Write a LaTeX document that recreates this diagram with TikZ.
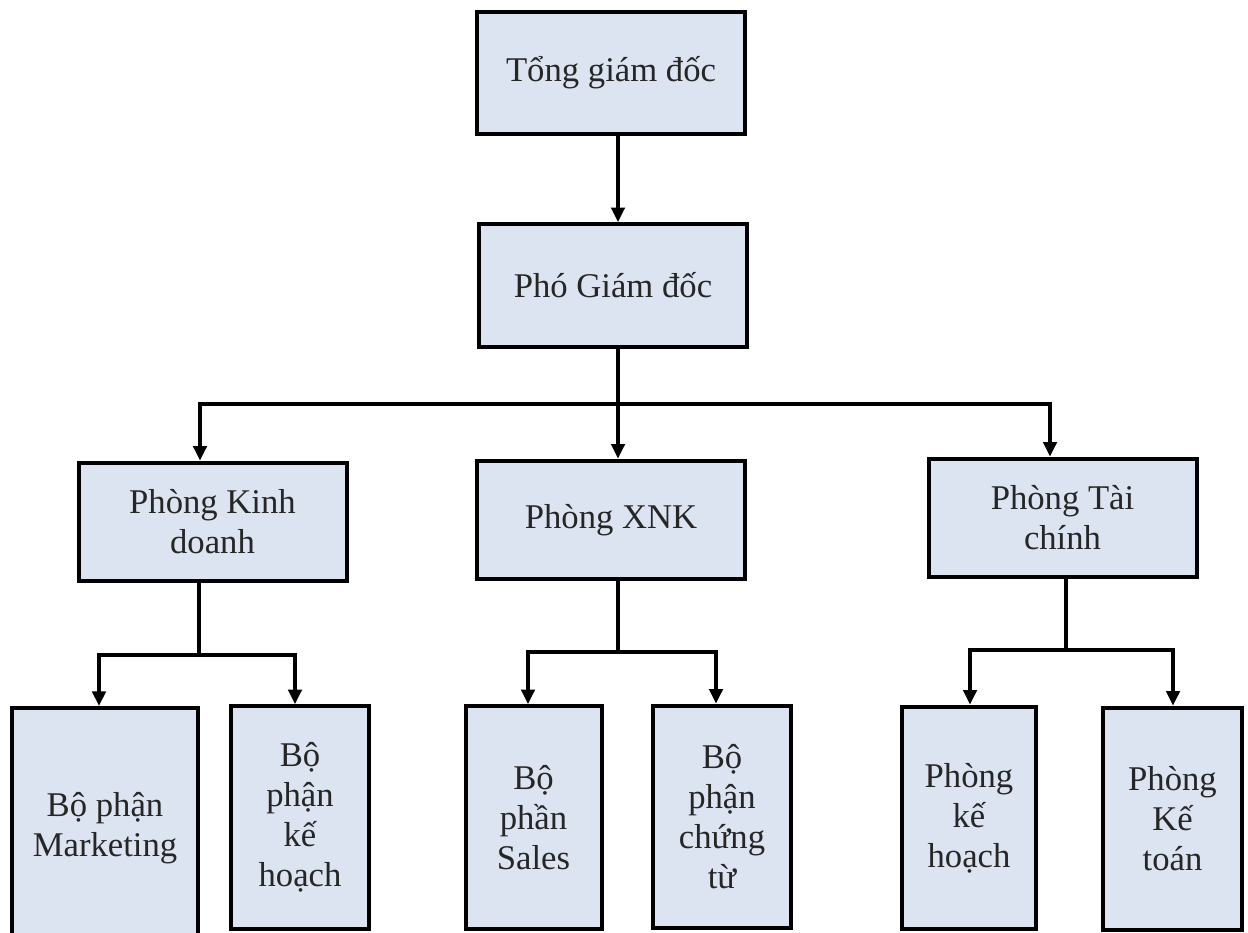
\documentclass[tikz,border=0pt]{standalone}
\usepackage{fontspec}
\setmainfont{Liberation Serif}
\usetikzlibrary{arrows.meta,positioning}
\definecolor{boxfill}{HTML}{DCE4F1}

\tikzset{
  box/.style={draw=black, line width=3pt, fill=boxfill, align=center, inner sep=2pt,
    font=\fontsize{26}{30}\selectfont, text=black!85},
  headbox/.style={box, minimum width=201pt, minimum height=92pt},
  deptbox/.style={box, minimum width=201pt, minimum height=89pt},
  leafbox/.style={box, minimum width=#1, minimum height=167pt},
  line/.style={line width=3pt},
  arr/.style={line width=3pt, -{Triangle[length=11pt,width=10pt]}}
}

\begin{document}
\begin{tikzpicture}[x=0.75pt,y=-0.75pt]
  \useasboundingbox (0,0) rectangle (1248,932);
  \clip (0,0) rectangle (1248,932);

  %% top
  \node[headbox] (tgd) at (611,73) {Tổng giám đốc};
  \node[headbox] (pgd) at (613,285.5) {Phó Giám đốc};

  %% departments
  \node[deptbox] (pkd) at (212.5,522) {Phòng Kinh\\doanh};
  \node[deptbox] (xnk) at (611,520) {Phòng XNK};
  \node[deptbox] (ptc) at (1062.5,518) {Phòng Tài\\chính};

  %% units
  \node[leafbox=140pt, minimum height=180pt] (mkt) at (105,828) {Bộ phận\\Marketing};
  \node[leafbox=104pt] (bkh) at (300,817.5) {Bộ\\phận\\kế\\hoạch};
  \node[leafbox=102pt] (sal) at (533.5,817.5) {Bộ\\phần\\Sales};
  \node[leafbox=104pt] (cht) at (722,817) {Bộ\\phận\\chứng\\từ};
  \node[leafbox=100pt] (pkh) at (969,818) {Phòng\\kế\\hoạch};
  \node[leafbox=104pt] (pkt) at (1172.5,819) {Phòng\\Kế\\toán};

  %% main bus
  \coordinate (spine) at (618,404);
  \coordinate (busL) at (200,404);
  \coordinate (busR) at (1050,404);
  \draw[arr] (tgd.south -| spine) -- (pgd.north -| spine);
  \draw[arr] (pgd.south -| spine) -- (xnk.north -| spine);
  \draw[arr] (spine) -| (busL |- pkd.north);
  \draw[arr] (spine) -| (busR |- ptc.north);

  %% kinh doanh
  \coordinate (kd) at (199,655);
  \draw[line] (pkd.south -| kd) -- (kd);
  \draw[arr] (kd) -| (99,0 |- mkt.north);
  \draw[arr] (kd) -| (295,0 |- bkh.north);

  %% xnk
  \coordinate (xk) at (618,652);
  \draw[line] (xnk.south -| xk) -- (xk);
  \draw[arr] (xk) -| (528,0 |- sal.north);
  \draw[arr] (xk) -| (716,0 |- cht.north);

  %% tai chinh
  \coordinate (tc) at (1066,650);
  \draw[line] (ptc.south -| tc) -- (tc);
  \draw[arr] (tc) -| (970,0 |- pkh.north);
  \draw[arr] (tc) -| (1173,0 |- pkt.north);
\end{tikzpicture}
\end{document}
